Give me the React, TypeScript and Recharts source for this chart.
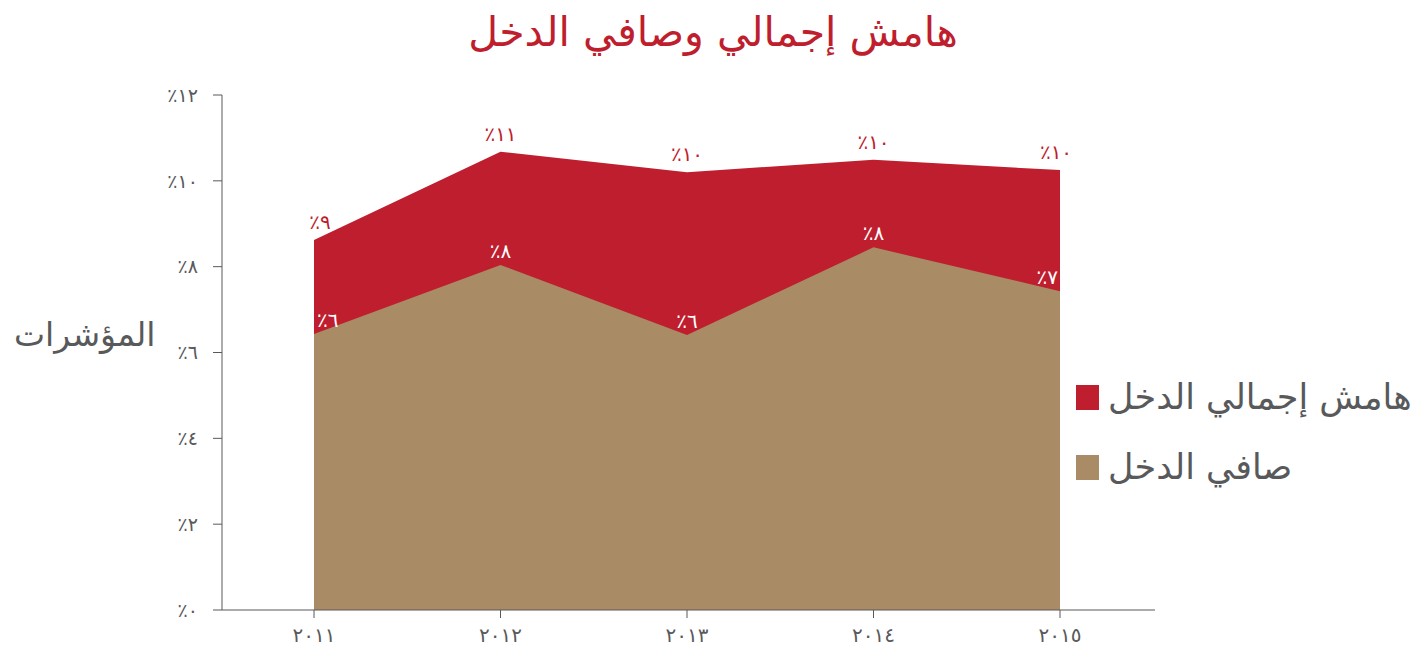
import { AreaChart, Area, XAxis, YAxis, LabelList } from 'recharts';

const years = ['٢٠١١', '٢٠١٢', '٢٠١٣', '٢٠١٤', '٢٠١٥'];
const grossMargin = [8.62, 10.68, 10.2, 10.49, 10.25];
const netIncome = [6.43, 8.04, 6.41, 8.45, 7.43];
const yTicks = [0, 2, 4, 6, 8, 10, 12];

const RED = '#BE1E2D';
const TAN = '#A98C65';
const GRAY = '#58595B';
const FONT = '"DejaVu Sans", sans-serif';

const AR_DIGITS = '٠١٢٣٤٥٦٧٨٩';
const toArabic = (n: number) => String(n).replace(/\d/g, (d) => AR_DIGITS[Number(d)]);
const pct = (n: number) => '٪' + toArabic(Math.round(n));

const data = years.map((year, i) => ({ year, gross: grossMargin[i], net: netIncome[i] }));

// keep the edge labels inside the filled area
const pointLabel = (color: string, inside: boolean) => (props: any) => {
  const { x, y, value, index } = props;
  let anchor = 'middle';
  let dx = 0;
  if (index === 0) {
    anchor = inside ? 'start' : 'middle';
    dx = inside ? 3 : 6;
  } else if (index === years.length - 1) {
    anchor = inside ? 'end' : 'middle';
    dx = inside ? -2 : -4;
  }
  return (
    <text x={x + dx} y={y - (inside ? 7 : 11)} textAnchor={anchor} fill={color} fontSize={20} fontFamily={FONT}>
      {pct(value)}
    </text>
  );
};

function LegendBox() {
  const items = [
    { name: 'هامش إجمالي الدخل', color: RED },
    { name: 'صافي الدخل', color: TAN },
  ];
  return (
    <div style={{ position: 'absolute', left: 1076, top: 362, direction: 'ltr' }}>
      {items.map((it) => (
        <div key={it.name} style={{ display: 'flex', alignItems: 'center', height: 70 }}>
          <span style={{ width: 23, height: 25, background: it.color, display: 'inline-block', marginRight: 9 }} />
          <span style={{ fontFamily: FONT, fontSize: 35, color: GRAY, whiteSpace: 'nowrap' }}>{it.name}</span>
        </div>
      ))}
    </div>
  );
}

export default function App() {
  return (
    <div style={{ position: 'absolute', left: 0, top: 0, width: 1417, height: 650, background: '#fff' }}>
      <div style={{ position: 'absolute', left: 0, width: 1426, top: 8, textAlign: 'center', fontFamily: FONT, fontSize: 41, color: RED }}>
        هامش إجمالي وصافي الدخل
      </div>
      <div style={{ position: 'absolute', left: 14, top: 315, fontFamily: FONT, fontSize: 33, color: GRAY }}>
        المؤشرات
      </div>
      <AreaChart width={1417} height={650} data={data} margin={{ top: 95, right: 262, bottom: 0, left: 162 }}>
        <XAxis
          dataKey="year"
          padding={{ left: 92, right: 95 }}
          height={40}
          tickSize={8}
          tickMargin={10}
          stroke={GRAY}
          tick={{ fill: GRAY, fontSize: 20, fontFamily: FONT }}
        />
        <YAxis
          domain={[0, 12]}
          ticks={yTicks}
          width={60}
          tickSize={9}
          tickMargin={15}
          stroke={GRAY}
          tickFormatter={(v: number) => '٪' + toArabic(v)}
          tick={{ fill: GRAY, fontSize: 19, fontFamily: FONT }}
        />
        <Area dataKey="gross" type="linear" fill={RED} fillOpacity={1} stroke="none" isAnimationActive={false}>
          <LabelList dataKey="gross" content={pointLabel(RED, false)} />
        </Area>
        <Area dataKey="net" type="linear" fill={TAN} fillOpacity={1} stroke="none" isAnimationActive={false}>
          <LabelList dataKey="net" content={pointLabel('#fff', true)} />
        </Area>
      </AreaChart>
      <LegendBox />
    </div>
  );
}
